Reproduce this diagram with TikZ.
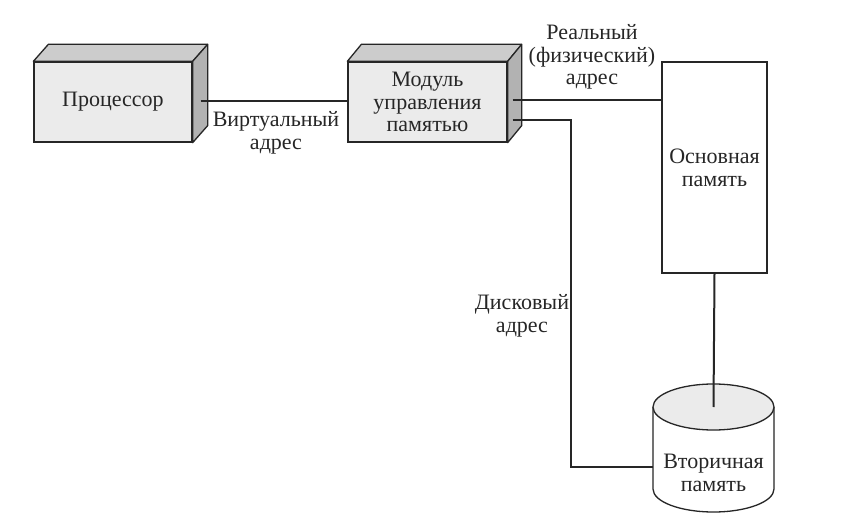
\documentclass[tikz,border=0pt]{standalone}
\usepackage{fontspec}
\setmainfont{Liberation Serif}
\usetikzlibrary{calc}
\definecolor{frontc}{gray}{0.92}
\definecolor{topc}{gray}{0.80}
\definecolor{sidec}{gray}{0.70}
\definecolor{inkc}{gray}{0.15}
\begin{document}
\begin{tikzpicture}[x=1pt,y=-1pt,
  every node/.style={font=\fontsize{22}{22.8}\selectfont, text=inkc},
  front/.style={draw=inkc, line width=1.3pt, fill=frontc, rectangle, inner sep=0pt},
  plainbox/.style={draw=inkc, line width=1.3pt, fill=white, rectangle, inner sep=0pt},
  topface/.style={draw=inkc, line width=1.3pt, fill=topc, line join=round},
  sideface/.style={draw=inkc, line width=1.3pt, fill=sidec, line join=round},
  conn/.style={draw=inkc, line width=2pt},
  lbl/.style={align=center, inner sep=0pt}]
\useasboundingbox (0,0) rectangle (849,521);
\fill[white] (0,0) rectangle (849,521);

% Processor
\node[front, minimum width=158pt, minimum height=80pt] (proc) at (113,102) {Процессор};
\draw[topface] (proc.north west) -- ++(15,-17) -- ($(proc.north east)+(15,-17)$) -- (proc.north east) -- cycle;
\draw[sideface] (proc.north east) -- ++(15,-17) -- ($(proc.south east)+(15,-17)$) -- (proc.south east) -- cycle;

% MMU
\node[front, minimum width=159pt, minimum height=80pt, align=center] (mmu) at (427.5,102) {Модуль\\управления\\памятью};
\draw[topface] (mmu.north west) -- ++(14,-17) -- ($(mmu.north east)+(14,-17)$) -- (mmu.north east) -- cycle;
\draw[sideface] (mmu.north east) -- ++(14,-17) -- ($(mmu.south east)+(14,-17)$) -- (mmu.south east) -- cycle;

% Main memory
\node[plainbox, minimum width=105pt, minimum height=211pt, align=center] (mem) at (714.5,167.5) {Основная\\память};

% Secondary memory (cylinder)
\coordinate (cyltop) at (713.5,407);
\coordinate (cylbot) at (713.5,489);
\fill[white] (cylbot) ellipse[x radius=60.5pt, y radius=23pt];
\fill[white] (653,407) rectangle (774,489);
\draw[draw=inkc, line width=1.3pt] (653,407) -- (653,489) arc[start angle=180, end angle=360, x radius=60.5pt, y radius=23pt] -- (774,407);
\draw[draw=inkc, line width=1.3pt, fill=frontc] (cyltop) ellipse[x radius=60.5pt, y radius=23pt];
\node[lbl] (disk) at (713.5,473) {Вторичная\\память};
\coordinate (diskleft) at (653,467);

% Connectors
\coordinate (pa) at ($(proc.east)+(8,-1)$);
\draw[conn] (pa) -- (pa -| mmu.west);
\coordinate (ma) at ($(mmu.east)+(5,-2)$);
\draw[conn] (ma) -- (ma -| mem.west);
\coordinate (mb) at ($(mmu.east)+(5,18)$);
\coordinate (bend) at (571,120);
\draw[conn] (mb) -- (bend) -- (bend |- diskleft) -- (diskleft);
\draw[conn] (mem.south) -- (cyltop);

% Labels
\node[lbl] (lv) at (276,133) {Виртуальный\\адрес};
\node[lbl] (lr) at (592,57) {Реальный\\(физический)\\адрес};
\node[lbl] (ld) at (522,316) {Дисковый\\адрес};
\end{tikzpicture}
\end{document}
